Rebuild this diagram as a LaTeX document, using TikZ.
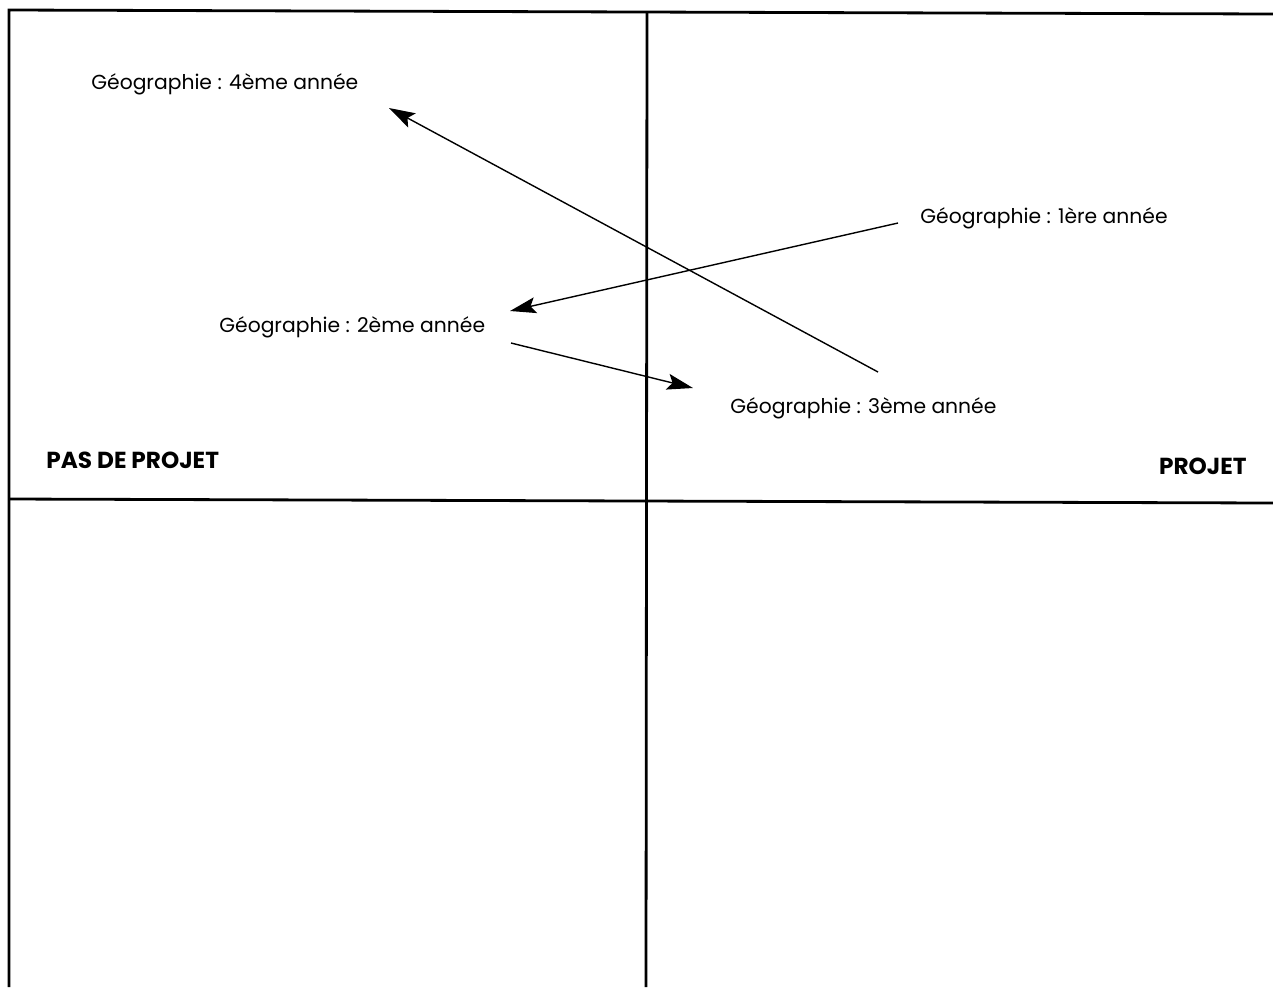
\documentclass[tikz,border=0pt]{standalone}
\usepackage{fontspec}
\setmainfont{Poppins}
\usetikzlibrary{arrows.meta}
\tikzset{
  frame/.style={line width=1.4pt, black},
  lbl/.style={inner sep=0pt, anchor=west, font=\fontsize{10.15}{12}\selectfont},
  cat/.style={inner sep=0pt, anchor=west, font=\fontsize{11.6}{13}\selectfont\bfseries},
  conn/.style={line width=0.7pt, -{Stealth[length=13pt, width=8pt, inset=2.5pt]}}
}
\begin{document}
\begin{tikzpicture}[x=0.5pt, y=-0.5pt]
\useasboundingbox (0,0) rectangle (1273,987);
% frame
\draw[frame] (9,987) -- (9,10) -- (1273,14);
\draw[frame] (647,12) -- (646,987);
\draw[frame] (9,499) -- (1273,503);
% labels
\node[lbl] (g4) at (91,84) {Géographie : 4ème année};
\node[lbl] (g1) at (920,218) {Géographie : 1ère année};
\node[lbl] (g2) at (219,327) {Géographie : 2ème année};
\node[lbl] (g3) at (730,408) {Géographie : 3ème année};
\node[cat] (pas) at (46,460) {PAS DE PROJET};
\node[cat, anchor=east] (proj) at (1247,466) {PROJET};
% connector end points
\coordinate (s3) at (878,372);
\coordinate (e4) at (389,108);
\coordinate (s1) at (898,223);
\coordinate (e2) at (510,311);
\coordinate (s2) at (511,343);
\coordinate (e3) at (693,388);
\draw[conn] (s3) -- (e4);
\draw[conn] (s1) -- (e2);
\draw[conn] (s2) -- (e3);
\end{tikzpicture}
\end{document}
